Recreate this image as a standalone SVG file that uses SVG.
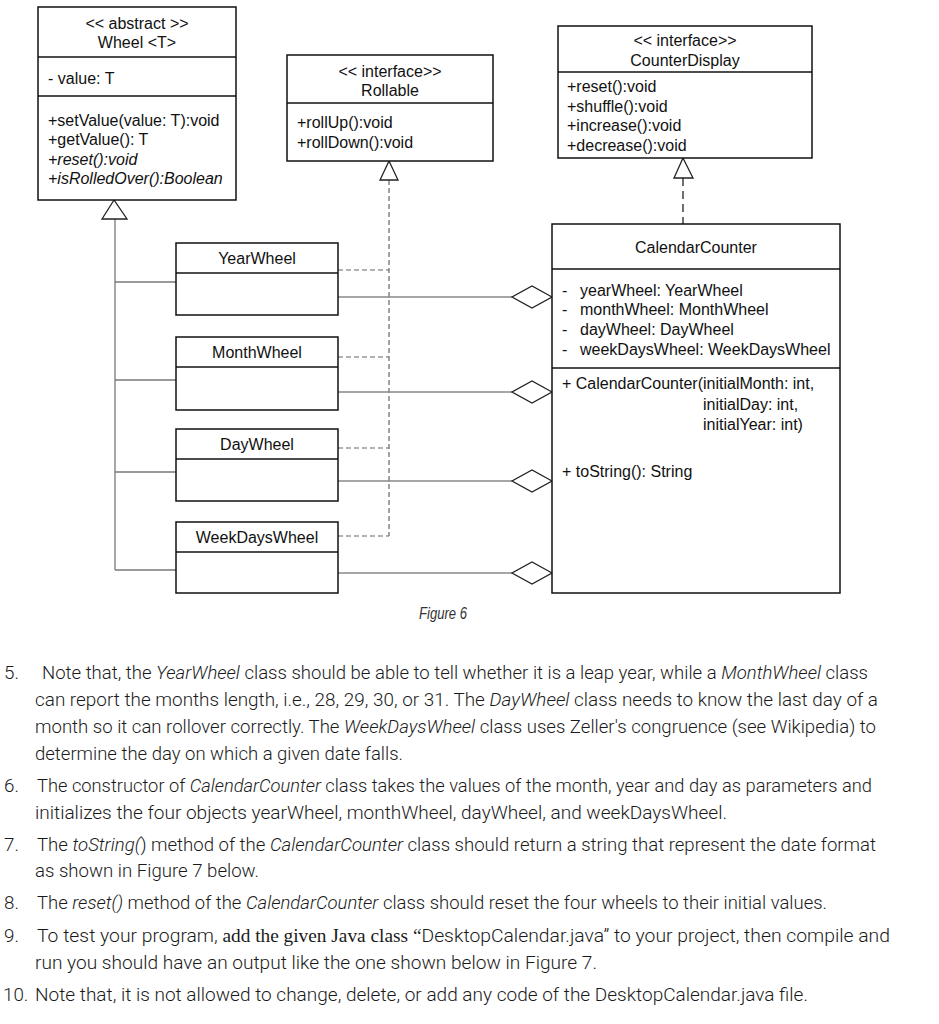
<svg xmlns="http://www.w3.org/2000/svg" width="939" height="1024" viewBox="0 0 939 1024">
<style>
.box{fill:#fff;stroke:#111;stroke-width:1.5}
.div{stroke:#111;stroke-width:1.5}
.t{font-family:"Liberation Sans",Arial,sans-serif;font-size:16px;fill:#111}
.c{text-anchor:middle}
.i{font-style:italic}
.gen{fill:none;stroke:#777;stroke-width:1.3}
.tri{fill:#fff;stroke:#222;stroke-width:1.3}
.real{fill:none;stroke:#666;stroke-width:1.2;stroke-dasharray:5 3}
.real2{fill:none;stroke:#222;stroke-width:1.3;stroke-dasharray:8 5}
.agg{fill:none;stroke:#888;stroke-width:1.6}
.dia{fill:#fff;stroke:#222;stroke-width:1.3}
.p{font-family:Roboto,"Open Sans",sans-serif;font-weight:300;font-size:18.8px;fill:#1a1a1a}
.s{font-family:"Liberation Serif","Times New Roman",serif;font-weight:400}
.fig{font-family:"Liberation Sans",Arial,sans-serif;font-style:italic;font-size:16px;fill:#333}
</style>

<g id="connectors">
  <polyline class="gen" points="115,219 115,570"/>
  <line class="gen" x1="115" y1="282" x2="176" y2="282"/>
  <line class="gen" x1="115" y1="380" x2="176" y2="380"/>
  <line class="gen" x1="115" y1="472" x2="176" y2="472"/>
  <line class="gen" x1="115" y1="570" x2="176" y2="570"/>
  <polygon class="tri" points="114,200 102,219 127,219"/>
  <line class="real" x1="389" y1="180" x2="389" y2="536"/>
  <line class="real" x1="338" y1="270" x2="389" y2="270"/>
  <line class="real" x1="338" y1="357" x2="389" y2="357"/>
  <line class="real" x1="338" y1="448" x2="389" y2="448"/>
  <line class="real" x1="338" y1="536" x2="389" y2="536"/>
  <polygon class="tri" points="389,161 380,180 398,180"/>
  <line class="real2" x1="683" y1="178" x2="683" y2="224"/>
  <polygon class="tri" points="683,158 674,178 693,178"/>
  <line class="agg" x1="338" y1="297" x2="512" y2="297"/>
  <line class="agg" x1="338" y1="392" x2="512" y2="392"/>
  <line class="agg" x1="338" y1="481" x2="512" y2="481"/>
  <line class="agg" x1="338" y1="573" x2="512" y2="573"/>
  <polygon class="dia" points="552,297 532,286 512,297 532,308"/>
  <polygon class="dia" points="552,392 532,381 512,392 532,403"/>
  <polygon class="dia" points="552,481 532,470 512,481 532,492"/>
  <polygon class="dia" points="552,573 532,562 512,573 532,584"/>
</g>

<g id="Wheel">
  <rect class="box" x="38" y="7" width="198" height="193"/>
  <line class="div" x1="38" y1="57" x2="236" y2="57"/>
  <line class="div" x1="38" y1="96" x2="236" y2="96"/>
  <text class="t c" x="137" y="29">&lt;&lt; abstract &gt;&gt;</text>
  <text class="t c" x="137" y="48">Wheel &lt;T&gt;</text>
  <text class="t" x="48" y="84">- value: T</text>
  <text class="t" x="48" y="126">+setValue(value: T):void</text>
  <text class="t" x="48" y="145">+getValue(): T</text>
  <text class="t i" x="48" y="165">+reset():void</text>
  <text class="t i" x="48" y="184">+isRolledOver():Boolean</text>
</g>

<g id="Rollable">
  <rect class="box" x="287" y="55" width="206" height="106"/>
  <line class="div" x1="287" y1="103" x2="493" y2="103"/>
  <text class="t c" x="390" y="77">&lt;&lt; interface&gt;&gt;</text>
  <text class="t c" x="390" y="96">Rollable</text>
  <text class="t" x="297" y="128">+rollUp():void</text>
  <text class="t" x="297" y="148">+rollDown():void</text>
</g>

<g id="CounterDisplay">
  <rect class="box" x="558" y="26" width="254" height="132"/>
  <line class="div" x1="558" y1="72" x2="812" y2="72"/>
  <text class="t c" x="685" y="46">&lt;&lt; interface&gt;&gt;</text>
  <text class="t c" x="685" y="66">CounterDisplay</text>
  <text class="t" x="567" y="92">+reset():void</text>
  <text class="t" x="567" y="112">+shuffle():void</text>
  <text class="t" x="567" y="131">+increase():void</text>
  <text class="t" x="567" y="151">+decrease():void</text>
</g>

<g id="CalendarCounter">
  <rect class="box" x="552" y="224" width="288" height="369"/>
  <line class="div" x1="552" y1="269" x2="840" y2="269"/>
  <line class="div" x1="552" y1="368" x2="840" y2="368"/>
  <text class="t c" x="696" y="253">CalendarCounter</text>
  <text class="t" x="562" y="296">-</text>
  <text class="t" x="580" y="296">yearWheel: YearWheel</text>
  <text class="t" x="562" y="315">-</text>
  <text class="t" x="580" y="315">monthWheel: MonthWheel</text>
  <text class="t" x="562" y="335">-</text>
  <text class="t" x="580" y="335">dayWheel: DayWheel</text>
  <text class="t" x="562" y="355">-</text>
  <text class="t" x="580" y="355">weekDaysWheel: WeekDaysWheel</text>
  <text class="t" x="562" y="389">+ CalendarCounter(initialMonth: int,</text>
  <text class="t" x="703" y="410">initialDay: int,</text>
  <text class="t" x="703" y="430">initialYear: int)</text>
  <text class="t" x="562" y="477">+ toString(): String</text>
</g>

<g id="YearWheel">
  <rect class="box" x="176" y="243" width="162" height="72"/>
  <line class="div" x1="176" y1="273" x2="338" y2="273"/>
  <text class="t c" x="257" y="264">YearWheel</text>
</g>
<g id="MonthWheel">
  <rect class="box" x="176" y="337" width="162" height="73"/>
  <line class="div" x1="176" y1="367" x2="338" y2="367"/>
  <text class="t c" x="257" y="358">MonthWheel</text>
</g>
<g id="DayWheel">
  <rect class="box" x="176" y="429" width="162" height="72"/>
  <line class="div" x1="176" y1="459" x2="338" y2="459"/>
  <text class="t c" x="257" y="450">DayWheel</text>
</g>
<g id="WeekDaysWheel">
  <rect class="box" x="176" y="522" width="162" height="71"/>
  <line class="div" x1="176" y1="552" x2="338" y2="552"/>
  <text class="t c" x="257" y="543">WeekDaysWheel</text>
</g>

<text class="fig" x="419" y="619" textLength="48" lengthAdjust="spacingAndGlyphs">Figure 6</text>

<g id="notes">
  <text class="p" x="4" y="679">5.</text>
  <text class="p" x="42" y="679" textLength="826" lengthAdjust="spacingAndGlyphs">Note that, the <tspan class="i">YearWheel</tspan> class should be able to tell whether it is a leap year, while a <tspan class="i">MonthWheel</tspan> class</text>
  <text class="p" x="35" y="706" textLength="843" lengthAdjust="spacingAndGlyphs">can report the months length, i.e., 28, 29, 30, or 31. The <tspan class="i">DayWheel</tspan> class needs to know the last day of a</text>
  <text class="p" x="35" y="733" textLength="841" lengthAdjust="spacingAndGlyphs">month so it can rollover correctly. The <tspan class="i">WeekDaysWheel</tspan> class uses Zeller's congruence (see Wikipedia) to</text>
  <text class="p" x="35" y="760" textLength="368" lengthAdjust="spacingAndGlyphs">determine the day on which a given date falls.</text>

  <text class="p" x="4" y="792">6.</text>
  <text class="p" x="37" y="792" textLength="835" lengthAdjust="spacingAndGlyphs">The constructor of <tspan class="i">CalendarCounter</tspan> class takes the values of the month, year and day as parameters and</text>
  <text class="p" x="35" y="819" textLength="692" lengthAdjust="spacingAndGlyphs">initializes the four objects yearWheel, monthWheel, dayWheel, and weekDaysWheel.</text>

  <text class="p" x="4" y="851">7.</text>
  <text class="p" x="37" y="851" textLength="839" lengthAdjust="spacingAndGlyphs">The <tspan class="i">toString(</tspan>) method of the <tspan class="i">CalendarCounter</tspan> class should return a string that represent the date format</text>
  <text class="p" x="35" y="877" textLength="224" lengthAdjust="spacingAndGlyphs">as shown in Figure 7 below.</text>

  <text class="p" x="4" y="909">8.</text>
  <text class="p" x="37" y="909" textLength="790" lengthAdjust="spacingAndGlyphs">The <tspan class="i">reset()</tspan> method of the <tspan class="i">CalendarCounter</tspan> class should reset the four wheels to their initial values.</text>

  <text class="p" x="4" y="942">9.</text>
  <text class="p" x="37" y="942" textLength="853" lengthAdjust="spacingAndGlyphs">To test your program, <tspan class="s">add the given Java class “</tspan>DesktopCalendar.java” to your project, then compile and</text>
  <text class="p" x="35" y="969" textLength="562" lengthAdjust="spacingAndGlyphs">run you should have an output like the one shown below in Figure 7.</text>

  <text class="p" x="3" y="1001">10.</text>
  <text class="p" x="35" y="1001" textLength="773" lengthAdjust="spacingAndGlyphs">Note that, it is not allowed to change, delete, or add any code of the DesktopCalendar.java file.</text>
</g>
</svg>
